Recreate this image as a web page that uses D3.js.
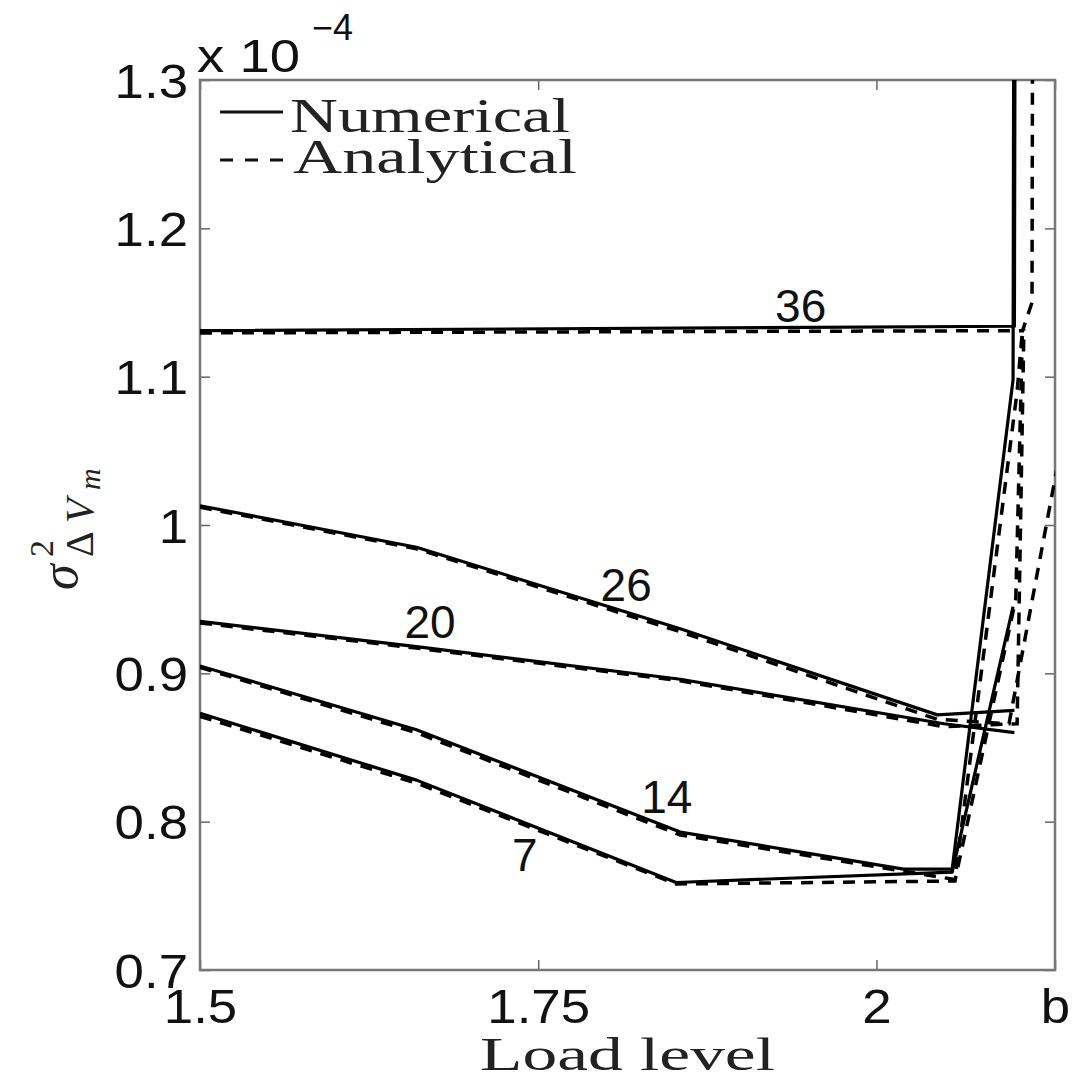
<!DOCTYPE html>
<html>
<head>
<meta charset="utf-8">
<script src="https://cdn.jsdelivr.net/npm/d3@7"></script>
<style>
  body { margin: 0; background: #fff; }
  svg { display: block; }
</style>
</head>
<body>
<script>
// tick values and labels
const loadTicks = [1.5, 1.75, 2, 2.132];
const loadTickLabels = ["1.5", "1.75", "2", "b"];
const sigmaTicks = [0.7, 0.8, 0.9, 1, 1.1, 1.2, 1.3];

// bus ids (curve labels)
const buses = ["7", "14", "20", "26", "36"];

// numerical results (solid), values in 1e-4
const numLoad7  = [1.5, 1.66, 1.852, 2.056, 2.101];
const numVar7   = [0.873, 0.828, 0.759, 0.766, 0.945];
const numLoad14 = [1.5, 1.66, 1.855, 2.02, 2.056, 2.101, 2.102];
const numVar14  = [0.905, 0.862, 0.793, 0.768, 0.768, 1.098, 1.6];
const numLoad20 = [1.5, 1.66, 1.855, 2.05, 2.102];
const numVar20  = [0.935, 0.918, 0.896, 0.866, 0.860];
const numLoad26 = [1.5, 1.66, 1.855, 2.045, 2.102];
const numVar26  = [1.013, 0.985, 0.930, 0.872, 0.875];
const numLoad36 = [1.5, 2.102, 2.103];
const numVar36  = [1.131, 1.134, 1.6];

// analytical results (dashed)
const anaLoad7  = [1.5, 1.66, 1.852, 2.058, 2.103, 2.108];
const anaVar7   = [0.871, 0.826, 0.758, 0.760, 0.950, 1.132];
const anaLoad14 = [1.5, 1.66, 1.855, 2.058, 2.104, 2.108];
const anaVar14  = [0.904, 0.860, 0.791, 0.761, 1.090, 1.132];
const anaLoad20 = [1.5, 1.66, 1.855, 2.05, 2.104, 2.109];
const anaVar20  = [0.934, 0.917, 0.895, 0.864, 0.866, 1.132];
const anaLoad26 = [1.5, 1.66, 1.855, 2.045, 2.098, 2.14];
const anaVar26  = [1.012, 0.984, 0.928, 0.869, 0.866, 1.07];
const anaLoad36 = [1.5, 2.108, 2.115, 2.116];
const anaVar36  = [1.1295, 1.131, 1.15, 1.6];

// where each bus label sits (load, variance)
const labelLoad = [1.740, 1.845, 1.670, 1.815, 1.944];
const labelVar  = [0.778, 0.817, 0.935, 0.960, 1.148];

const W = 1075, H = 1082;
const margin = {top: 80, right: 20, bottom: 112, left: 200};

const svg = d3.select("body").append("svg")
    .attr("width", W)
    .attr("height", H);

const x = d3.scaleLinear().domain([1.5, 2.132]).range([margin.left, W - margin.right]);
const y = d3.scaleLinear().domain([0.7, 1.3]).range([H - margin.bottom, margin.top]);

const sans = "'Liberation Sans', Arial, Helvetica, sans-serif";
const serif = "'Liberation Serif', 'DejaVu Serif', serif";

svg.append("clipPath").attr("id", "plot")
    .append("rect")
    .attr("x", x.range()[0]).attr("y", y.range()[1])
    .attr("width", x.range()[1] - x.range()[0])
    .attr("height", y.range()[0] - y.range()[1]);

// axes: ticks pointing inward on all four sides
const tickLen = 10;
const gx = svg.append("g")
    .attr("transform", `translate(0,${y.range()[0]})`)
    .call(d3.axisBottom(x).tickValues(loadTicks)
        .tickSize(-tickLen).tickPadding(19)
        .tickFormat((d, i) => loadTickLabels[i]));
svg.append("g")
    .attr("transform", `translate(0,${y.range()[1]})`)
    .call(d3.axisTop(x).tickValues(loadTicks).tickSize(-tickLen).tickFormat(""));
const gy = svg.append("g")
    .attr("transform", `translate(${x.range()[0]},0)`)
    .call(d3.axisLeft(y).tickValues(sigmaTicks)
        .tickSize(-tickLen).tickPadding(12)
        .tickFormat(d => String(+d.toFixed(1))));
svg.append("g")
    .attr("transform", `translate(${x.range()[1]},0)`)
    .call(d3.axisRight(y).tickValues(sigmaTicks).tickSize(-tickLen).tickFormat(""));

svg.selectAll(".domain").remove();
svg.selectAll(".tick line").attr("stroke", "#666").attr("stroke-width", 1.5);
svg.selectAll(".tick text")
    .style("font-family", sans)
    .style("font-size", "48px")
    .attr("fill", "#111");
gx.selectAll(".tick text").attr("dy", "0.71em");
gy.selectAll(".tick text").attr("dy", "0.36em");
svg.selectAll(".tick text").each(function () {
    const w = this.getComputedTextLength();
    if (w > 0) d3.select(this).attr("textLength", w * 1.1).attr("lengthAdjust", "spacingAndGlyphs");
});

// box
svg.append("rect")
    .attr("x", x.range()[0]).attr("y", y.range()[1])
    .attr("width", x.range()[1] - x.range()[0])
    .attr("height", y.range()[0] - y.range()[1])
    .attr("fill", "none")
    .attr("stroke", "#777")
    .attr("stroke-width", 2.5);

// curves
const line = d3.line().x(d => x(d[0])).y(d => y(d[1]));
const zip = (a, b) => a.map((v, i) => [v, b[i]]);

const numerical = [
    zip(numLoad7, numVar7), zip(numLoad14, numVar14), zip(numLoad20, numVar20),
    zip(numLoad26, numVar26), zip(numLoad36, numVar36)
];
const analytical = [
    zip(anaLoad7, anaVar7), zip(anaLoad14, anaVar14), zip(anaLoad20, anaVar20),
    zip(anaLoad26, anaVar26), zip(anaLoad36, anaVar36)
];

const plot = svg.append("g").attr("clip-path", "url(#plot)");

plot.selectAll(".ana")
    .data(analytical)
    .enter()
    .append("path")
    .attr("class", "ana")
    .attr("d", line)
    .attr("fill", "none")
    .attr("stroke", "#000")
    .attr("stroke-width", 3.5)
    .attr("stroke-dasharray", "12,9");

plot.selectAll(".num")
    .data(numerical)
    .enter()
    .append("path")
    .attr("class", "num")
    .attr("d", line)
    .attr("fill", "none")
    .attr("stroke", "#000")
    .attr("stroke-width", 3.2)
    .attr("stroke-linejoin", "round");

// bus labels
svg.selectAll(".bus")
    .data(buses)
    .enter()
    .append("text")
    .attr("class", "bus")
    .attr("x", (d, i) => x(labelLoad[i]))
    .attr("y", (d, i) => y(labelVar[i]))
    .attr("dy", "0.36em")
    .attr("text-anchor", "middle")
    .style("font-family", sans)
    .style("font-size", "46px")
    .attr("fill", "#111")
    .text(d => d);

// exponent
svg.append("text")
    .attr("x", 197).attr("y", 72)
    .attr("textLength", 103).attr("lengthAdjust", "spacingAndGlyphs")
    .style("font-family", sans)
    .style("font-size", "46px")
    .attr("fill", "#111")
    .text("x 10");
svg.append("text")
    .attr("x", 312).attr("y", 40)
    .style("font-family", sans)
    .style("font-size", "36px")
    .attr("fill", "#111")
    .text("\u22124");

// legend
const leg = svg.append("g");
leg.append("line")
    .attr("x1", 220).attr("x2", 283).attr("y1", 112).attr("y2", 112)
    .attr("stroke", "#111").attr("stroke-width", 3);
leg.append("line")
    .attr("x1", 220).attr("x2", 283).attr("y1", 160).attr("y2", 160)
    .attr("stroke", "#111").attr("stroke-width", 3)
    .attr("stroke-dasharray", "13,12");
leg.append("text")
    .attr("x", 290).attr("y", 132)
    .attr("textLength", 280).attr("lengthAdjust", "spacingAndGlyphs")
    .style("font-family", serif).style("font-size", "48px")
    .attr("fill", "#222")
    .text("Numerical");
leg.append("text")
    .attr("x", 293).attr("y", 173)
    .attr("textLength", 284).attr("lengthAdjust", "spacingAndGlyphs")
    .style("font-family", serif).style("font-size", "48px")
    .attr("fill", "#222")
    .text("Analytical");

// x label
svg.append("text")
    .attr("x", (x.range()[0] + x.range()[1]) / 2)
    .attr("y", 1070)
    .attr("text-anchor", "middle")
    .attr("textLength", 295).attr("lengthAdjust", "spacingAndGlyphs")
    .style("font-family", serif).style("font-size", "47px")
    .attr("fill", "#222")
    .text("Load level");

// y label: sigma^2 with Delta V_m subscript
const yl = svg.append("g").attr("transform", "translate(77,590) rotate(-90)");
yl.append("text").attr("x", 0).attr("y", 0)
    .style("font-family", serif).style("font-style", "italic").style("font-size", "52px")
    .attr("fill", "#222").text("\u03c3");
yl.append("text").attr("x", 33).attr("y", -24)
    .style("font-family", serif).style("font-size", "34px")
    .attr("fill", "#222").text("2");
yl.append("text").attr("x", 33).attr("y", 16)
    .style("font-family", serif).style("font-size", "40px")
    .attr("fill", "#222").text("\u0394");
yl.append("text").attr("x", 67).attr("y", 16)
    .style("font-family", serif).style("font-style", "italic").style("font-size", "40px")
    .attr("fill", "#222").text("V");
yl.append("text").attr("x", 100).attr("y", 23)
    .style("font-family", serif).style("font-style", "italic").style("font-size", "30px")
    .attr("fill", "#222").text("m");
</script>
</body>
</html>
